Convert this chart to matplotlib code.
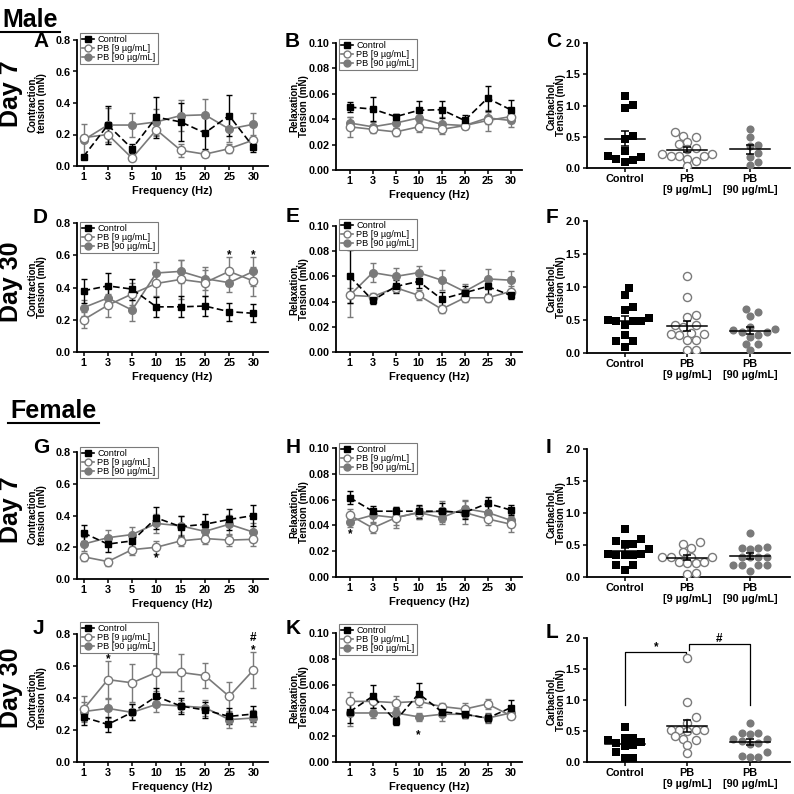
import numpy as np
import matplotlib
matplotlib.use("Agg")
import matplotlib.pyplot as plt
from matplotlib.lines import Line2D

plt.rcParams['font.family'] = ['Liberation Sans', 'DejaVu Sans']
plt.rcParams['font.weight'] = 'bold'
plt.rcParams['axes.labelweight'] = 'bold'

W, H = 794, 794
GRAY = '#7a7a7a'

freq_labels = ['1', '3', '5', '10', '15', '20', '25', '30']
group_names = ['Control', 'PB [9 µg/mL]', 'PB [90 µg/mL]']
cat_labels = ['Control', 'PB\n[9 µg/mL]', 'PB\n[90 µg/mL]']

# ---- contraction / relaxation curves (mean, SEM) ----
# A  male day 7 contraction
A_ctrl = [0.06, 0.26, 0.11, 0.31, 0.28, 0.21, 0.32, 0.12]
A_ctrl_err = [0.01, 0.12, 0.03, 0.13, 0.12, 0.10, 0.13, 0.03]
A_pb9 = [0.18, 0.20, 0.05, 0.23, 0.10, 0.075, 0.11, 0.165]
A_pb9_err = [0.02, 0.05, 0.01, 0.04, 0.04, 0.02, 0.03, 0.02]
A_pb90 = [0.165, 0.26, 0.26, 0.28, 0.32, 0.325, 0.235, 0.265]
A_pb90_err = [0.10, 0.11, 0.075, 0.08, 0.10, 0.10, 0.08, 0.07]

# B  male day 7 relaxation
B_ctrl = [0.0495, 0.048, 0.042, 0.047, 0.0475, 0.039, 0.0565, 0.0475]
B_ctrl_err = [0.004, 0.0095, 0.002, 0.0075, 0.0065, 0.004, 0.010, 0.0075]
B_pb9 = [0.034, 0.032, 0.030, 0.034, 0.032, 0.035, 0.039, 0.042]
B_pb9_err = [0.008, 0.003, 0.003, 0.004, 0.004, 0.003, 0.008, 0.005]
B_pb90 = [0.037, 0.034, 0.037, 0.041, 0.036, 0.035, 0.041, 0.039]
B_pb90_err = [0.005, 0.004, 0.004, 0.004, 0.006, 0.003, 0.005, 0.005]

# D  male day 30 contraction
D_ctrl = [0.38, 0.41, 0.39, 0.28, 0.28, 0.285, 0.25, 0.24]
D_ctrl_err = [0.075, 0.08, 0.065, 0.06, 0.065, 0.06, 0.055, 0.055]
D_pb9 = [0.20, 0.29, 0.36, 0.425, 0.45, 0.43, 0.50, 0.44]
D_pb9_err = [0.05, 0.07, 0.07, 0.08, 0.12, 0.08, 0.09, 0.09]
D_pb90 = [0.275, 0.335, 0.26, 0.49, 0.50, 0.455, 0.43, 0.50]
D_pb90_err = [0.05, 0.06, 0.065, 0.07, 0.07, 0.07, 0.06, 0.09]

# E  male day 30 relaxation
E_ctrl = [0.060, 0.041, 0.052, 0.056, 0.042, 0.047, 0.052, 0.045]
E_ctrl_err = [0.021, 0.003, 0.005, 0.005, 0.006, 0.005, 0.006, 0.003]
E_pb9 = [0.045, 0.044, 0.051, 0.045, 0.034, 0.043, 0.043, 0.048]
E_pb9_err = [0.006, 0.003, 0.003, 0.004, 0.003, 0.003, 0.003, 0.004]
E_pb90 = [0.045, 0.063, 0.060, 0.063, 0.057, 0.048, 0.058, 0.057]
E_pb90_err = [0.017, 0.0075, 0.007, 0.005, 0.008, 0.006, 0.008, 0.007]

# G  female day 7 contraction
G_ctrl = [0.29, 0.22, 0.24, 0.385, 0.33, 0.345, 0.375, 0.40]
G_ctrl_err = [0.05, 0.05, 0.04, 0.07, 0.065, 0.065, 0.065, 0.065]
G_pb9 = [0.14, 0.11, 0.185, 0.20, 0.24, 0.255, 0.245, 0.25]
G_pb9_err = [0.025, 0.025, 0.035, 0.04, 0.035, 0.035, 0.035, 0.04]
G_pb90 = [0.22, 0.26, 0.28, 0.35, 0.335, 0.30, 0.345, 0.295]
G_pb90_err = [0.045, 0.05, 0.05, 0.06, 0.065, 0.05, 0.06, 0.06]

# H  female day 7 relaxation
H_ctrl = [0.0615, 0.051, 0.051, 0.051, 0.051, 0.050, 0.057, 0.052]
H_ctrl_err = [0.005, 0.004, 0.003, 0.005, 0.006, 0.005, 0.005, 0.004]
H_pb9 = [0.048, 0.038, 0.046, 0.050, 0.051, 0.050, 0.045, 0.041]
H_pb9_err = [0.005, 0.004, 0.006, 0.005, 0.008, 0.009, 0.005, 0.006]
H_pb90 = [0.043, 0.048, 0.046, 0.050, 0.046, 0.053, 0.050, 0.044]
H_pb90_err = [0.004, 0.005, 0.008, 0.005, 0.005, 0.007, 0.005, 0.005]

# J  female day 30 contraction
J_ctrl = [0.28, 0.235, 0.31, 0.41, 0.35, 0.325, 0.285, 0.30]
J_ctrl_err = [0.05, 0.045, 0.05, 0.05, 0.05, 0.05, 0.05, 0.05]
J_pb9 = [0.33, 0.515, 0.495, 0.56, 0.56, 0.54, 0.41, 0.575]
J_pb9_err = [0.08, 0.115, 0.12, 0.115, 0.115, 0.08, 0.09, 0.115]
J_pb90 = [0.315, 0.335, 0.31, 0.36, 0.35, 0.34, 0.265, 0.275]
J_pb90_err = [0.06, 0.06, 0.05, 0.05, 0.04, 0.05, 0.05, 0.05]

# K  female day 30 relaxation
K_ctrl = [0.039, 0.051, 0.032, 0.053, 0.039, 0.037, 0.034, 0.042]
K_ctrl_err = [0.009, 0.009, 0.003, 0.008, 0.003, 0.003, 0.003, 0.006]
K_pb9 = [0.047, 0.047, 0.046, 0.047, 0.043, 0.041, 0.045, 0.036]
K_pb9_err = [0.007, 0.005, 0.005, 0.004, 0.003, 0.005, 0.004, 0.003]
K_pb90 = [0.038, 0.038, 0.038, 0.035, 0.037, 0.037, 0.034, 0.038]
K_pb90_err = [0.010, 0.004, 0.004, 0.003, 0.005, 0.003, 0.004, 0.004]

# ---- carbachol individual values ----
C_ctrl = [1.15, 1.01, 0.96, 0.52, 0.47, 0.28, 0.20, 0.14, 0.10, 0.13, 0.18]
C_pb9 = [0.58, 0.52, 0.49, 0.42, 0.38, 0.32, 0.30, 0.22, 0.20, 0.19, 0.20, 0.22,
         0.15, 0.12, 0.03]
C_pb90 = [0.62, 0.49, 0.37, 0.35, 0.24, 0.17, 0.09, 0.05]

F_ctrl = [0.99, 0.88, 0.70, 0.65, 0.53, 0.50, 0.49, 0.48, 0.48, 0.43, 0.27,
          0.18, 0.18, 0.09]
F_pb9 = [1.17, 0.85, 0.57, 0.54, 0.43, 0.42, 0.40, 0.31, 0.29, 0.28, 0.29,
         0.20, 0.20, 0.05, 0.05]
F_pb90 = [0.62, 0.66, 0.56, 0.40, 0.35, 0.36, 0.32, 0.32, 0.25, 0.27, 0.14,
          0.13, 0.04]

I_ctrl = [0.75, 0.59, 0.57, 0.52, 0.52, 0.43, 0.36, 0.35, 0.35, 0.35, 0.36,
          0.18, 0.18, 0.11]
I_pb9 = [0.54, 0.52, 0.45, 0.39, 0.32, 0.31, 0.31, 0.31, 0.23, 0.22, 0.22,
         0.23, 0.07, 0.04]
I_pb90 = [0.68, 0.45, 0.44, 0.45, 0.47, 0.31, 0.32, 0.31, 0.32, 0.18, 0.18,
          0.18, 0.18, 0.10]

L_ctrl = [0.57, 0.39, 0.35, 0.38, 0.32, 0.30, 0.27, 0.26, 0.16, 0.07, 0.07]
L_pb9 = [1.68, 0.97, 0.72, 0.63, 0.52, 0.51, 0.52, 0.51, 0.50, 0.37, 0.42,
         0.36, 0.27, 0.15]
L_pb90 = [0.63, 0.47, 0.45, 0.47, 0.37, 0.34, 0.37, 0.29, 0.30, 0.16, 0.08,
          0.08, 0.09]

fig = plt.figure(figsize=(W / 100, H / 100), dpi=100)


def px_axes(l, t, r, b):
    return fig.add_axes([l / W, 1 - b / H, (r - l) / W, (b - t) / H])


def style_axes(ax):
    for s in ['top', 'right']:
        ax.spines[s].set_visible(False)
    for s in ['left', 'bottom']:
        ax.spines[s].set_linewidth(1.3)
    ax.tick_params(width=1.1, length=3, labelsize=7.8, pad=1.5)


def set_ylab(ax, text, off):
    ax.set_ylabel(text, fontsize=7, linespacing=1.0)
    ax.yaxis.label.set_verticalalignment('center')
    ax.yaxis.set_label_coords(off, 0.5)


def line_panel(ax, data, ymax, step, fmt, ylabel, lab_off, leg_up):
    x = np.arange(len(freq_labels))
    ctrl, ctrl_e, p9, p9_e, p90, p90_e = data
    ax.errorbar(x, p90, yerr=p90_e, color=GRAY, lw=1.2, marker='o', ms=5.5,
                mfc=GRAY, mec=GRAY, capsize=2.5, elinewidth=1, capthick=1)
    ax.errorbar(x, p9, yerr=p9_e, color=GRAY, lw=1.2, marker='o', ms=6,
                mfc='white', mec=GRAY, mew=1, capsize=2.5, elinewidth=1,
                capthick=1)
    ax.errorbar(x, ctrl, yerr=ctrl_e, color='black', lw=1.2, ls=(0, (4, 2)),
                marker='s', ms=5, capsize=2.5, elinewidth=1, capthick=1)
    style_axes(ax)
    ax.set_xticks(x)
    ax.set_xticklabels(freq_labels)
    ax.set_ylim(0, ymax)
    ax.set_yticks(np.arange(0, ymax + step / 2, step))
    ax.yaxis.set_major_formatter(plt.FormatStrFormatter(fmt))
    ax.set_xlabel('Frequency (Hz)', fontsize=8, labelpad=3)
    set_ylab(ax, ylabel, lab_off)
    handles = [
        Line2D([], [], color='black', marker='s', ms=4.5, lw=1.2),
        Line2D([], [], color=GRAY, marker='o', ms=5, mfc='white', lw=1.2),
        Line2D([], [], color=GRAY, marker='o', ms=5, mfc=GRAY, lw=1.2),
    ]
    h_px = ax.bbox.height
    leg = ax.legend(handles, group_names, loc='upper left',
                    bbox_to_anchor=(3 / ax.bbox.width, 1 + leg_up / h_px),
                    borderaxespad=0,
                    prop=dict(size=6.6, weight='normal'), handlelength=1.3,
                    handletextpad=0.4, labelspacing=0.0, borderpad=0.2,
                    fancybox=False, framealpha=1)
    leg.get_frame().set_edgecolor(GRAY)
    leg.get_frame().set_linewidth(0.8)


def swarm(ax, vals, center, step_px, min_px):
    # beeswarm: lowest values first, each point takes the nearest
    # half-marker offset where it keeps min_px clear of placed points
    x_per = ax.bbox.width / np.diff(ax.get_xlim())[0]
    y_per = ax.bbox.height / np.diff(ax.get_ylim())[0]
    cands = [0.0] + [s * k * step_px for k in range(1, 30) for s in (1, -1)]
    placed = []
    xs = np.zeros(len(vals))
    for i in np.argsort(vals, kind='stable'):
        yp = vals[i] * y_per
        for c in cands:
            if all((c - px) ** 2 + (yp - py) ** 2 >= min_px ** 2
                   for px, py in placed):
                break
        placed.append((c, yp))
        xs[i] = center + c / x_per
    return xs


def scatter_panel(ax, groups, lab_off):
    style_axes(ax)
    ax.set_xlim(-0.6, 2.64)
    ax.set_ylim(0, 2.0)
    ax.set_yticks([0, 0.5, 1.0, 1.5, 2.0])
    ax.yaxis.set_major_formatter(plt.FormatStrFormatter('%.1f'))
    ax.set_xticks([0, 1, 2])
    ax.set_xticklabels(cat_labels, fontsize=7.8, linespacing=1.15)
    set_ylab(ax, 'Carbachol,\nTension (mN)', lab_off)
    styles = [dict(marker='s', s=30, c='black', edgecolors='black', lw=0),
              dict(marker='o', s=34, facecolors='white', edgecolors=GRAY,
                   lw=1.0),
              dict(marker='o', s=34, c=GRAY, edgecolors=GRAY, lw=0)]
    for k, vals in enumerate(groups):
        vals = np.asarray(vals)
        xs = swarm(ax, vals, k, 4.15, 7.4)
        ax.scatter(xs, vals, zorder=3, **styles[k])
        m = vals.mean()
        sem = vals.std(ddof=1) / np.sqrt(len(vals))
        ax.plot([k - 0.32, k + 0.32], [m, m], color='black', lw=1.1, zorder=4)
        ax.errorbar([k], [m], yerr=[sem], color='black', capsize=3,
                    elinewidth=1.1, capthick=1.1, zorder=4)


col1 = (77, 268)
col2 = (336, 522)
col3 = (587, 790)

axA = px_axes(col1[0], 40, col1[1], 166)
axB = px_axes(col2[0], 43, col2[1], 170)
axC = px_axes(col3[0], 43, col3[1], 168)
axD = px_axes(col1[0], 223, col1[1], 352)
axE = px_axes(col2[0], 226, col2[1], 352)
axF = px_axes(col3[0], 221, col3[1], 353)
axG = px_axes(col1[0], 452, col1[1], 579)
axH = px_axes(col2[0], 448, col2[1], 577)
axI = px_axes(col3[0], 449, col3[1], 577)
axJ = px_axes(col1[0], 634, col1[1], 762)
axK = px_axes(col2[0], 633, col2[1], 762)
axL = px_axes(col3[0], 638, col3[1], 762)

off1 = -40 / (col1[1] - col1[0])
off2 = -37 / (col2[1] - col2[0])
off3 = -31 / (col3[1] - col3[0])

line_panel(axA, (A_ctrl, A_ctrl_err, A_pb9, A_pb9_err, A_pb90, A_pb90_err),
           0.8, 0.2, '%.1f', 'Contraction,\ntension (mN)', off1, 7)
line_panel(axB, (B_ctrl, B_ctrl_err, B_pb9, B_pb9_err, B_pb90, B_pb90_err),
           0.10, 0.02, '%.2f', 'Relaxation,\nTension (mN)', off2, 4)
line_panel(axD, (D_ctrl, D_ctrl_err, D_pb9, D_pb9_err, D_pb90, D_pb90_err),
           0.8, 0.2, '%.1f', 'Contraction,\nTension (mN)', off1, 1)
line_panel(axE, (E_ctrl, E_ctrl_err, E_pb9, E_pb9_err, E_pb90, E_pb90_err),
           0.10, 0.02, '%.2f', 'Relaxation,\nTension (mN)', off2, 7)
line_panel(axG, (G_ctrl, G_ctrl_err, G_pb9, G_pb9_err, G_pb90, G_pb90_err),
           0.8, 0.2, '%.1f', 'Contraction,\ntension (mN)', off1, 5)
line_panel(axH, (H_ctrl, H_ctrl_err, H_pb9, H_pb9_err, H_pb90, H_pb90_err),
           0.10, 0.02, '%.2f', 'Relaxation,\nTension (mN)', off2, 5)
line_panel(axJ, (J_ctrl, J_ctrl_err, J_pb9, J_pb9_err, J_pb90, J_pb90_err),
           0.8, 0.2, '%.1f', 'Contraction,\nTension (mN)', off1, 12)
line_panel(axK, (K_ctrl, K_ctrl_err, K_pb9, K_pb9_err, K_pb90, K_pb90_err),
           0.10, 0.02, '%.2f', 'Relaxation,\nTension (mN)', off2, 9)

for ax in (axA, axD, axG, axJ):
    ax.set_xlim(-0.27, 7.6)
for ax in (axB, axE, axH, axK):
    ax.set_xlim(-0.6, 7.5)

scatter_panel(axC, (C_ctrl, C_pb9, C_pb90), off3)
scatter_panel(axF, (F_ctrl, F_pb9, F_pb90), off3)
scatter_panel(axI, (I_ctrl, I_pb9, I_pb90), off3)
scatter_panel(axL, (L_ctrl, L_pb9, L_pb90), off3)

# significance marks
star = dict(ha='center', va='center', fontsize=8.5)
axD.text(6, 0.60, '*', **star)
axD.text(7, 0.60, '*', **star)
axG.text(3, 0.13, '*', **star)
axH.text(0, 0.033, '*', **star)
axJ.text(1, 0.64, '*', **star)
axJ.text(7, 0.70, '*', **star)
axJ.text(7, 0.775, '#', ha='center', va='center', fontsize=8.5)
axK.text(3, 0.021, '*', **star)
axL.plot([0, 0, 0.98, 0.98], [0.92, 1.78, 1.78, 1.72], color='black', lw=0.9,
         clip_on=False)
axL.plot([1.02, 1.02, 2, 2], [1.80, 1.90, 1.90, 0.92], color='black', lw=0.9,
         clip_on=False)
axL.text(0.5, 1.86, '*', **star)
axL.text(1.5, 1.99, '#', ha='center', va='center', fontsize=8.5)

# panel letters
letters = [('A', 33, 47), ('B', 285, 47), ('C', 546, 47),
           ('D', 33, 223), ('E', 286, 222), ('F', 546, 223),
           ('G', 33, 453), ('H', 286, 453), ('I', 546, 453),
           ('J', 33, 634), ('K', 286, 634), ('L', 546, 638)]
for t, x, y in letters:
    fig.text(x / W, 1 - y / H, t, fontsize=15, ha='left', va='baseline')

# row labels
for t, y in [('Day 7', 94), ('Day 30', 282), ('Day 7', 510), ('Day 30', 688)]:
    fig.text(11 / W, 1 - y / H, t, fontsize=18, rotation=90, ha='center',
             va='center')

# sex headings with underline
fig.canvas.draw()
for t, x, y in [('Male', 2, 27), ('Female', 10, 418)]:
    txt = fig.text(x / W, 1 - y / H, t, fontsize=18, ha='left',
                   va='baseline')
    bb = txt.get_window_extent(renderer=fig.canvas.get_renderer())
    uy = (y + 5) / H
    fig.add_artist(Line2D([bb.x0 / W - 0.003, bb.x1 / W + 0.003],
                          [1 - uy, 1 - uy], color='black', lw=1.5))

fig.savefig('out.png', dpi=100)
